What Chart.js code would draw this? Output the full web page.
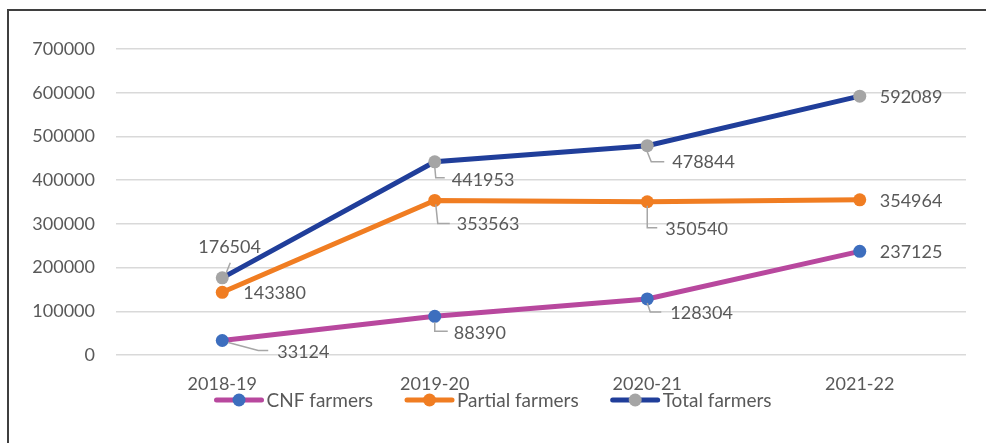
<!DOCTYPE html>
<html lang="en">
<head>
<meta charset="UTF-8">
<title>CNF, partial and total farmers</title>
<script src="https://cdn.jsdelivr.net/npm/chart.js"></script>
<style>
  body { margin: 0; background: #fff; overflow: hidden; }
  #frame { position: absolute; left: 7px; top: 9px; width: 1200px; height: 800px; border: 2px solid #3f3f3f; }
  #wrap { position: absolute; left: 0; top: 0; width: 986px; height: 443px; }
</style>
</head>
<body>
<div id="frame"></div>
<div id="wrap"><canvas id="farmersChart"></canvas></div>
<script>
var years = ['2018-19', '2019-20', '2020-21', '2021-22'];
var cnfFarmers = [33124, 88390, 128304, 237125];
var partialFarmers = [143380, 353563, 350540, 354964];
var totalFarmers = [176504, 441953, 478844, 592089];
var yTicks = [0, 100000, 200000, 300000, 400000, 500000, 600000, 700000];

var FONT = 'Lato, "Liberation Sans", sans-serif';
var TEXT = '#595959';

// label offset from its point [dx, dy] and optional leader polyline
var labelPlacement = [
  [ { dx: 55, dy: 12, lead: [[6, 2], [36, 10], [46, 10]] },
    { dx: 19, dy: 17, lead: [[0, 6], [0, 15], [13, 15]] },
    { dx: 23, dy: 14, lead: [[0, 4], [3, 13], [14, 13]] },
    { dx: 20, dy: 1 } ],
  [ { dx: 21, dy: 1 },
    { dx: 22, dy: 24, lead: [[1, 4], [3, 23], [15, 23]] },
    { dx: 18, dy: 27, lead: [[0, 4], [0, 26], [10, 26]] },
    { dx: 20, dy: 1 } ],
  [ { dx: -24, dy: -31, lead: [[4, -5], [8, -15]] },
    { dx: 17, dy: 18, lead: [[0, 5], [1, 16], [10, 16]] },
    { dx: 25, dy: 17, lead: [[0, 6], [4, 16], [17, 16]] },
    { dx: 20, dy: 1 } ]
];

var valueLabels = {
  id: 'valueLabels',
  afterDatasetsDraw: function (chart) {
    var ctx = chart.ctx;
    ctx.save();
    ctx.font = '18px ' + FONT;
    ctx.textBaseline = 'middle';
    ctx.textAlign = 'left';
    chart.data.datasets.forEach(function (ds, di) {
      chart.getDatasetMeta(di).data.forEach(function (pt, i) {
        var p = labelPlacement[di][i];
        if (p.lead) {
          ctx.strokeStyle = '#a6a6a6';
          ctx.lineWidth = 1.5;
          ctx.beginPath();
          p.lead.forEach(function (q, k) {
            if (k === 0) ctx.moveTo(pt.x + q[0], pt.y + q[1]);
            else ctx.lineTo(pt.x + q[0], pt.y + q[1]);
          });
          ctx.stroke();
        }
        ctx.fillStyle = TEXT;
        ctx.fillText(String(ds.data[i]), pt.x + p.dx, pt.y + p.dy);
      });
    });
    ctx.restore();
  }
};

// legend row: line with a dot, then the series name
var lineLegend = {
  id: 'lineLegend',
  afterDraw: function (chart) {
    var ctx = chart.ctx;
    var mark = 49, gapText = 3, gapItem = 32, y = 400;
    ctx.save();
    ctx.font = '19px ' + FONT;
    var widths = chart.data.datasets.map(function (ds) { return ctx.measureText(ds.label).width; });
    var total = widths.reduce(function (a, w) { return a + mark + gapText + w; }, 0) + gapItem * (widths.length - 1);
    var x = (chart.width - total) / 2;
    chart.data.datasets.forEach(function (ds, i) {
      ctx.strokeStyle = ds.borderColor;
      ctx.lineWidth = 5;
      ctx.lineCap = 'round';
      ctx.beginPath();
      ctx.moveTo(x + 2, y);
      ctx.lineTo(x + mark - 2, y);
      ctx.stroke();
      ctx.fillStyle = ds.pointBackgroundColor;
      ctx.beginPath();
      ctx.arc(x + mark / 2, y, 6.5, 0, Math.PI * 2);
      ctx.fill();
      ctx.fillStyle = TEXT;
      ctx.textBaseline = 'middle';
      ctx.fillText(ds.label, x + mark + gapText, y + 1);
      x += mark + gapText + widths[i] + gapItem;
    });
    ctx.restore();
  }
};

function series(label, data, line, dot, order) {
  return {
    label: label,
    data: data,
    borderColor: line,
    backgroundColor: line,
    pointBackgroundColor: dot,
    pointBorderColor: dot,
    borderWidth: 5,
    pointRadius: 6.5,
    pointHoverRadius: 6.5,
    pointBorderWidth: 0,
    tension: 0,
    order: order
  };
}

new Chart(document.getElementById('farmersChart'), {
  type: 'line',
  data: {
    labels: years,
    datasets: [
      series('CNF farmers', cnfFarmers, '#b8489e', '#3d6ebe', 3),
      series('Partial farmers', partialFarmers, '#f07d22', '#f07d22', 2),
      series('Total farmers', totalFarmers, '#203e9a', '#a5a5a5', 1)
    ]
  },
  options: {
    responsive: true,
    maintainAspectRatio: false,
    animation: false,
    layout: { padding: { top: 49, right: 20, bottom: 0, left: 0 } },
    plugins: { legend: { display: false }, tooltip: { enabled: false } },
    scales: {
      x: {
        offset: true,
        grid: { display: false },
        border: { display: false },
        ticks: { color: TEXT, font: { family: FONT, size: 18 }, padding: 10, maxRotation: 0 },
        afterFit: function (s) { s.height = 88; }
      },
      y: {
        min: 0,
        max: 700000,
        grid: { color: '#d9d9d9', lineWidth: 1.5, drawTicks: false },
        border: { display: false },
        ticks: {
          color: TEXT,
          font: { family: FONT, size: 18 },
          padding: 21,
          callback: function (v) { return String(v); }
        },
        afterBuildTicks: function (s) { s.ticks = yTicks.map(function (v) { return { value: v }; }); },
        afterFit: function (s) { s.width = 116; }
      }
    }
  },
  plugins: [valueLabels, lineLegend]
});
</script>
</body>
</html>
